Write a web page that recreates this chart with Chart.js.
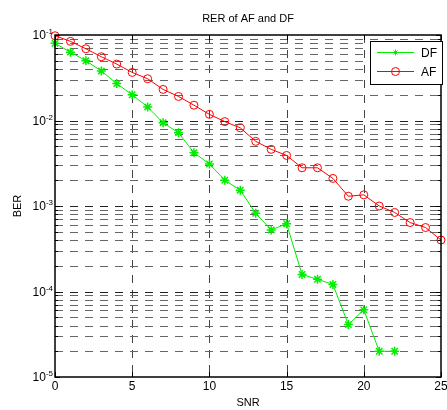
<!DOCTYPE html>
<html>
<head>
<meta charset="utf-8">
<script src="https://cdn.jsdelivr.net/npm/chart.js@4.4.1/dist/chart.umd.min.js"></script>
<style>
  html, body { margin: 0; padding: 0; background: #fff; }
  #wrap { width: 447px; height: 410px; }
</style>
</head>
<body>
<div id="wrap"><canvas id="berChart" width="447" height="410"></canvas></div>
<script>
// SNR points and BER results for both relaying schemes
const snrDF = [0, 1, 2, 3, 4, 5, 6, 7, 8, 9, 10, 11, 12, 13, 14, 15, 16, 17, 18, 19, 20, 21, 22];
const berDF = [0.08, 0.063, 0.05, 0.038, 0.027, 0.02, 0.0144, 0.0094, 0.0072, 0.0042, 0.0031, 0.002,
               0.00153, 0.00082, 0.000525, 0.00062, 0.000158, 0.000139, 0.000121, 0.000041, 0.000061,
               0.00002, 0.00002];
const snrAF = [0, 1, 2, 3, 4, 5, 6, 7, 8, 9, 10, 11, 12, 13, 14, 15, 16, 17, 18, 19, 20, 21, 22, 23, 24, 25];
const berAF = [0.098, 0.0843, 0.069, 0.0557, 0.0457, 0.0365, 0.0308, 0.0231, 0.0191, 0.0151, 0.0118,
               0.0097, 0.0082, 0.0057, 0.0046, 0.0039, 0.0028, 0.0028, 0.0021, 0.0013, 0.00135, 0.001,
               0.00084, 0.00064, 0.00056, 0.0004];

const xTicks = [0, 5, 10, 15, 20, 25];
const yDecades = [-5, -4, -3, -2, -1];

const FONT = 'Arial, "Liberation Sans", sans-serif';
const GREEN = '#00ee00';
const RED = '#ff0000';

// axes box, dashed grid, tick labels, titles and legend in MATLAB style
const matlabAxes = {
  id: 'matlabAxes',
  beforeDatasetsDraw(chart) {
    const { ctx, chartArea: a, scales: { x, y } } = chart;
    ctx.save();
    ctx.lineWidth = 1;
    ctx.setLineDash([8, 7]);
    // vertical grid at major x ticks
    ctx.strokeStyle = '#444';
    xTicks.forEach(t => {
      const px = Math.round(x.getPixelForValue(t)) + 0.5;
      if (px <= a.left + 1 || px >= a.right - 1) return;
      ctx.beginPath(); ctx.moveTo(px, a.top); ctx.lineTo(px, a.bottom); ctx.stroke();
    });
    // horizontal grid at every decade step, decades drawn darker
    yDecades.forEach(e => {
      for (let m = 1; m <= 9; m++) {
        const v = m * Math.pow(10, e);
        if (v > 0.1 + 1e-12) continue;
        const py = Math.round(y.getPixelForValue(v)) + 0.5;
        if (py <= a.top + 1 || py >= a.bottom - 1) continue;
        ctx.strokeStyle = m === 1 ? '#222' : '#666';
        ctx.beginPath(); ctx.moveTo(a.left, py); ctx.lineTo(a.right, py); ctx.stroke();
      }
    });
    ctx.setLineDash([]);
    ctx.strokeStyle = '#000';
    // inward tick marks on all four sides
    xTicks.forEach(t => {
      const px = Math.round(x.getPixelForValue(t)) + 0.5;
      ctx.beginPath();
      ctx.moveTo(px, a.bottom); ctx.lineTo(px, a.bottom - 5);
      ctx.moveTo(px, a.top); ctx.lineTo(px, a.top + 5);
      ctx.stroke();
    });
    yDecades.forEach(e => {
      for (let m = 1; m <= 9; m++) {
        const v = m * Math.pow(10, e);
        if (v > 0.1 + 1e-12) continue;
        const py = Math.round(y.getPixelForValue(v)) + 0.5;
        const len = m === 1 ? 5 : 3;
        ctx.beginPath();
        ctx.moveTo(a.left, py); ctx.lineTo(a.left + len, py);
        ctx.moveTo(a.right, py); ctx.lineTo(a.right - len, py);
        ctx.stroke();
      }
    });
    ctx.restore();
  },
  afterDraw(chart) {
    const { ctx, chartArea: a, scales: { x, y } } = chart;
    ctx.save();
    // axes box
    ctx.strokeStyle = '#000';
    ctx.lineWidth = 1.5;
    ctx.strokeRect(a.left, a.top, a.right - a.left, a.bottom - a.top);

    ctx.fillStyle = '#000';
    // x tick labels
    ctx.font = '12px ' + FONT;
    ctx.textAlign = 'center';
    ctx.textBaseline = 'middle';
    xTicks.forEach(t => ctx.fillText(String(t), x.getPixelForValue(t), a.bottom + 10));

    // y tick labels as 10 with a superscript exponent
    yDecades.forEach(e => {
      const py = y.getPixelForValue(Math.pow(10, e));
      const exp = String(e);
      ctx.font = '8px ' + FONT;
      const ew = ctx.measureText(exp).width;
      ctx.textAlign = 'right';
      ctx.textBaseline = 'alphabetic';
      ctx.fillText(exp, a.left - 2, py - 1);
      ctx.font = '12px ' + FONT;
      ctx.fillText('10', a.left - 2 - ew, py + 4);
    });

    // title and axis names
    const cx = (a.left + a.right) / 2;
    ctx.font = '11px ' + FONT;
    ctx.textAlign = 'center';
    ctx.textBaseline = 'middle';
    ctx.fillText('RER of AF and DF', cx, 19);
    ctx.fillText('SNR', cx, a.bottom + 26);
    ctx.save();
    ctx.translate(18, (a.top + a.bottom) / 2);
    ctx.rotate(-Math.PI / 2);
    ctx.fillText('BER', 0, 0);
    ctx.restore();

    // legend box
    const lx = 370, ly = 41, lw = 72, lh = 43;
    ctx.fillStyle = '#fff';
    ctx.fillRect(lx, ly, lw, lh);
    ctx.strokeStyle = '#000';
    ctx.lineWidth = 1;
    ctx.strokeRect(lx + 0.5, ly + 0.5, lw, lh);
    const rows = [
      { label: 'DF', color: GREEN, y: 52.5, marker: 'star' },
      { label: 'AF', color: RED, y: 71.5, marker: 'circle' }
    ];
    rows.forEach(r => {
      ctx.strokeStyle = r.color;
      ctx.lineWidth = 1;
      ctx.beginPath(); ctx.moveTo(377, r.y); ctx.lineTo(414, r.y); ctx.stroke();
      const mx = 395.5;
      ctx.beginPath();
      if (r.marker === 'circle') {
        ctx.arc(mx, r.y, 4, 0, Math.PI * 2);
      } else {
        ctx.moveTo(mx, r.y - 3); ctx.lineTo(mx, r.y + 3);
        ctx.moveTo(mx - 3, r.y); ctx.lineTo(mx + 3, r.y);
        ctx.moveTo(mx - 2, r.y - 2); ctx.lineTo(mx + 2, r.y + 2);
        ctx.moveTo(mx - 2, r.y + 2); ctx.lineTo(mx + 2, r.y - 2);
      }
      ctx.stroke();
      ctx.fillStyle = '#000';
      ctx.font = '12px ' + FONT;
      ctx.textAlign = 'left';
      ctx.textBaseline = 'middle';
      ctx.fillText(r.label, 421, r.y + 1);
    });
    ctx.restore();
  }
};

const whiteBg = {
  id: 'whiteBg',
  beforeDraw(chart) {
    const { ctx, width, height } = chart;
    ctx.save();
    ctx.fillStyle = '#fff';
    ctx.fillRect(0, 0, width, height);
    ctx.restore();
  }
};

new Chart(document.getElementById('berChart'), {
  type: 'line',
  data: {
    datasets: [
      {
        label: 'DF',
        data: snrDF.map((s, i) => ({ x: s, y: berDF[i] })),
        borderColor: GREEN,
        backgroundColor: 'transparent',
        borderWidth: 1,
        pointStyle: 'star',
        pointRadius: 4.5,
        pointBorderColor: GREEN,
        pointBorderWidth: 1.5,
        tension: 0,
        clip: false
      },
      {
        label: 'AF',
        data: snrAF.map((s, i) => ({ x: s, y: berAF[i] })),
        borderColor: RED,
        backgroundColor: 'transparent',
        borderWidth: 1,
        pointStyle: 'circle',
        pointRadius: 4,
        pointBorderColor: RED,
        pointBackgroundColor: 'transparent',
        pointBorderWidth: 1,
        tension: 0,
        clip: false
      }
    ]
  },
  options: {
    responsive: false,
    animation: false,
    devicePixelRatio: 1,
    layout: { padding: { left: 55, top: 35, right: 1, bottom: 33 } },
    plugins: {
      legend: { display: false },
      title: { display: false },
      tooltip: { enabled: false }
    },
    scales: {
      x: { type: 'linear', min: 0, max: 25, display: false },
      y: { type: 'logarithmic', min: 1e-5, max: 1e-1, display: false }
    }
  },
  plugins: [whiteBg, matlabAxes]
});
</script>
</body>
</html>
